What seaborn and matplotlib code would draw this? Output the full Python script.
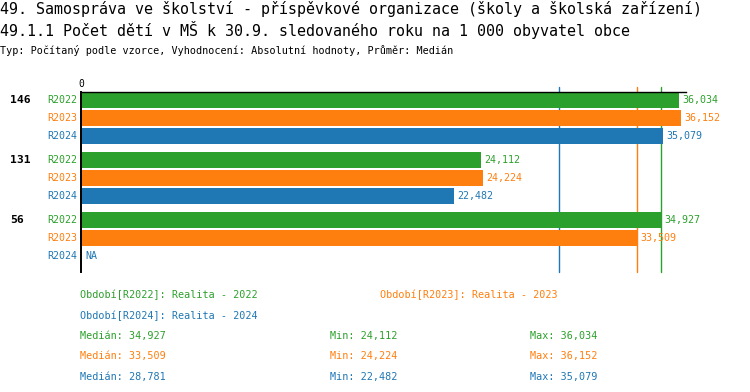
import matplotlib
matplotlib.use("Agg")
import matplotlib.pyplot as plt
import seaborn as sns
import pandas as pd
import numpy as np

# data
groups = ["146", "131", "56"]
periods = ["R2022", "R2023", "R2024"]
colors = ["#2ca02c", "#ff7f0e", "#1f77b4"]
vals_2022 = [36.034, 24.112, 34.927]
vals_2023 = [36.152, 24.224, 33.509]
vals_2024 = [35.079, 22.482, np.nan]
medians = [34.927, 33.509, 28.781]
mins = [24.112, 24.224, 22.482]
maxs = [36.034, 36.152, 35.079]
legend_names = ["Období[R2022]: Realita - 2022",
                "Období[R2023]: Realita - 2023",
                "Období[R2024]: Realita - 2024"]

title1 = "49. Samospráva ve školství - příspěvkové organizace (školy a školská zařízení)"
title2 = "49.1.1 Počet dětí v MŠ k 30.9. sledovaného roku na 1 000 obyvatel obce"
subtitle = "Typ: Počítaný podle vzorce, Vyhodnocení: Absolutní hodnoty, Průměr: Medián"


def fmt(v):
    return f"{v:.3f}".replace(".", ",")


series = [vals_2022, vals_2023, vals_2024]
rows = []
for p, vals in zip(periods, series):
    for g, v in zip(groups, vals):
        rows.append({"group": g, "period": p, "value": v})
df = pd.DataFrame(rows)

sns.set_style("white")
plt.rcParams["font.family"] = ["DejaVu Sans Mono", "DejaVu Sans"]
plt.rcParams["text.color"] = "black"
plt.rcParams["xtick.color"] = "black"

W, H = 750, 392
fig = plt.figure(figsize=(W / 100, H / 100), dpi=100)
ax = fig.add_axes([81 / W, 1 - 272 / H, 605 / W, 180 / H])

sns.barplot(data=df, y="group", x="value", hue="period", order=groups,
            hue_order=periods, palette=colors, orient="h", width=0.9,
            gap=0.11, saturation=1, legend=False, ax=ax, errorbar=None,
            linewidth=0)

ax.set_xlim(0, 36.46)
ax.set_ylim(2.567, -0.433)
ax.set_xlabel("")
ax.set_ylabel("")
ax.set_yticks([])
ax.xaxis.tick_top()
ax.set_xticks([0])
ax.set_xticklabels(["0"], fontsize=7)
ax.tick_params(axis="x", length=0, pad=2)
for s in ["right", "bottom"]:
    ax.spines[s].set_visible(False)
ax.spines["top"].set_linewidth(1)
ax.spines["top"].set_color("black")
ax.spines["left"].set_linewidth(1.4)
ax.spines["left"].set_color("black")

# median lines behind the bars, poking a little above the top axis
for m, c in zip(medians, colors):
    ax.axvline(m, ymin=0, ymax=1 + 5 / 180, color=c, lw=1, zorder=0.5,
               clip_on=False)
for p in ax.patches:
    p.set_zorder(1)

ytr = ax.get_yaxis_transform()
for gi, g in enumerate(groups):
    ax.text(-71 / 605, gi - 0.3, g, transform=ytr, ha="left", va="center",
            fontsize=8.2, fontweight="bold", color="black")
    for pj, (p, vals, c) in enumerate(zip(periods, series, colors)):
        y = gi + (pj - 1) * 0.3
        ax.text(-4 / 605, y, p, transform=ytr, ha="right", va="center",
                fontsize=7.2, color=c)
        v = vals[gi]
        if np.isnan(v):
            ax.annotate("NA", (0, y), xytext=(3, 0), textcoords="offset points",
                        ha="left", va="center", fontsize=7.2, color=c)
        else:
            ax.annotate(fmt(v), (v, y), xytext=(2.5, 0), textcoords="offset points",
                        ha="left", va="center", fontsize=7.2, color=c)

fig.text(0, 1 - 9 / H, title1, fontsize=10.85, va="center", ha="left")
fig.text(0, 1 - 30 / H, title2, fontsize=10.85, va="center", ha="left")
fig.text(0, 1 - 50 / H, subtitle, fontsize=7.3, va="center", ha="left")

leg_pos = [(80, 295), (380, 295), (80, 316)]
for (x, y), name, c in zip(leg_pos, legend_names, colors):
    fig.text(x / W, 1 - y / H, name, fontsize=7.3, color=c, va="center")

for i, c in enumerate(colors):
    y = 1 - (336 + i * 20.5) / H
    fig.text(80 / W, y, "Medián: " + fmt(medians[i]), fontsize=7.3, color=c, va="center")
    fig.text(330 / W, y, "Min: " + fmt(mins[i]), fontsize=7.3, color=c, va="center")
    fig.text(530 / W, y, "Max: " + fmt(maxs[i]), fontsize=7.3, color=c, va="center")

fig.savefig("out.png", dpi=100)
